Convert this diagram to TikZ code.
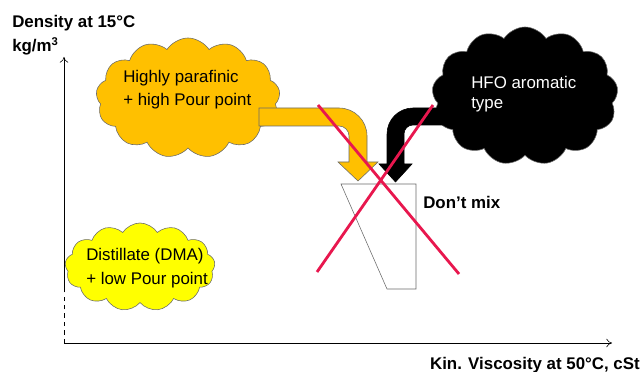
\documentclass[tikz,border=0pt]{standalone}
\usepackage{fontspec}
\setmainfont{Liberation Sans}
\usepackage{xcolor}
\usetikzlibrary{arrows.meta, positioning, shapes.symbols}
\definecolor{parafin}{HTML}{FFC000}
\definecolor{distil}{HTML}{FFFF00}
\definecolor{cross}{HTML}{E8174E}
\definecolor{edge}{HTML}{6A6A6A}

\begin{document}
\begin{tikzpicture}[x=0.025cm, y=-0.025cm,
    puff/.style={cloud, cloud puffs=13, cloud puff arc=115, draw=edge, thin},
    lbl/.style={inner sep=0pt, align=left, font=\fontsize{12}{17}\selectfont},
    axlbl/.style={inner sep=0pt, align=left, font=\fontsize{12}{17}\selectfont\bfseries},
    axis/.style={-{To[length=4pt,width=6pt]}, thin},
    blockarr/.style={draw=edge, thin},
    nomix/.style={cross, line width=2pt}
]
\useasboundingbox (0,0) rectangle (642,372);

% axes
\coordinate (O)    at (64,343);
\coordinate (ybrk) at (64,290);
\coordinate (ytop) at (64,57);
\coordinate (xend) at (612,343);
\draw[thin, dashed] (O) -- (ybrk);
\draw[axis] (ybrk) -- (ytop);
\draw[axis] (O) -- (xend);
\node[axlbl, anchor=north west] (ylab) at (12,15) {Density at 15°C\\kg/m\textsuperscript{3}};
\node[axlbl, anchor=north east] (xlab) at (640,357) {Kin. Viscosity at 50°C, cSt};

% tank
\draw[edge, thin] (341,184) -- (416,184) -- (416,289) -- (387,289) -- cycle;

% clouds
\node[puff, fill=parafin, minimum width=4.6cm, minimum height=3.0cm] (para) at (188,98) {};
\node[puff, fill=black, minimum width=4.65cm, minimum height=3.45cm] (hfo) at (525,96) {};
\node[puff, fill=distil, minimum width=3.75cm, minimum height=2.2cm] (dma) at (140,267) {};

\node[lbl, anchor=north west, font=\fontsize{12}{16.3}\selectfont] (paratxt) at (123,70) {Highly parafinic\\+ high Pour point};
\node[lbl, anchor=north west, text=white, font=\fontsize{12}{14.5}\selectfont] (hfotxt) at (471,76) {HFO aromatic\\type};
\node[lbl, anchor=north west] (dmatxt) at (86,248) {Distillate (DMA)\\+ low Pour point};

% bent arrows into the tank
\draw[blockarr, fill=parafin] (259,108) -- (339,108) arc[start angle=-90, end angle=0, radius=28]
    -- (367,162) -- (378,162) -- (358,181) -- (338,162) -- (349,162) -- (349,136)
    arc[start angle=0, end angle=-90, radius=10] -- (259,126) -- cycle;
\draw[fill=black] (445,108) -- (413,108) arc[start angle=270, end angle=180, radius=26]
    -- (387,164) -- (379,164) -- (395.5,182) -- (412,164) -- (404,164) -- (404,134)
    arc[start angle=180, end angle=270, radius=9] -- (445,125) -- cycle;

% cross
\coordinate (c1) at (318,105);
\coordinate (c2) at (459,274);
\coordinate (c3) at (433,105);
\coordinate (c4) at (317,272);
\draw[nomix] (c1) -- (c2);
\draw[nomix] (c3) -- (c4);
\node[axlbl, anchor=north west] (mix) at (423,196) {Don’t mix};
\end{tikzpicture}
\end{document}
